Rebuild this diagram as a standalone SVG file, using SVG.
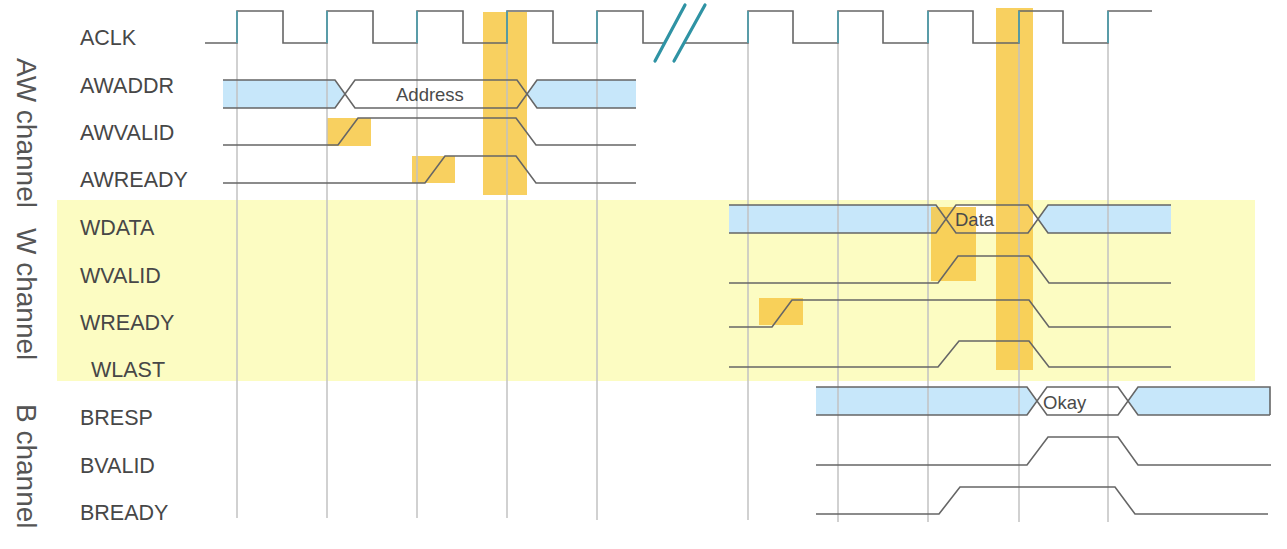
<svg xmlns="http://www.w3.org/2000/svg" width="1287" height="549" viewBox="0 0 1287 549">
<style>
.lbl{font-family:"Liberation Sans",Arial,sans-serif;font-size:21.5px;fill:#474747}
.chan{font-family:"Liberation Sans",Arial,sans-serif;font-size:28px;fill:#555}
.bustxt{font-family:"Liberation Sans",Arial,sans-serif;font-size:18.5px;fill:#4a4a4a}
.sig{fill:none;stroke:#666;stroke-width:1.6;stroke-linejoin:miter}
.blue{fill:#c7e7fa}
.white{fill:#ffffff}
.hl{fill:#f7c94a;opacity:0.88}
.grid{stroke:#c2c2c2;stroke-width:1.5}
.rise{stroke:#4fa3b2;stroke-width:1.6}
</style>
<rect width="1287" height="549" fill="#ffffff"/>
<rect id="w-band" x="57" y="200" width="1198" height="181" fill="#fcfcc2"/>

<g id="bus-fills">
  <polygon class="blue" points="223,80 335,80 345,94 335,108 223,108"/>
  <polygon class="white" points="345,94 355,80 517,80 527,94 517,108 355,108"/>
  <polygon class="blue" points="527,94 537,80 636,80 636,108 537,108"/>
  <polygon class="blue" points="729,205 936,205 946,219 936,233 729,233"/>
  <polygon class="white" points="946,219 956,205 1028,205 1038,219 1028,233 956,233"/>
  <polygon class="blue" points="1038,219 1048,205 1171,205 1171,233 1048,233"/>
  <polygon class="blue" points="816,387 1027,387 1037,401 1027,415 816,415"/>
  <polygon class="white" points="1037,401 1047,387 1118,387 1128,401 1118,415 1047,415"/>
  <polygon class="blue" points="1128,401 1138,387 1270,387 1270,415 1138,415"/>
</g>

<g id="highlights">
  <rect class="hl" x="327" y="118" width="44" height="28"/>
  <rect class="hl" x="412" y="156" width="43" height="27"/>
  <rect class="hl" x="483" y="12" width="44" height="183"/>
  <rect class="hl" x="931" y="207" width="45" height="74"/>
  <rect class="hl" x="759" y="298" width="44" height="27"/>
  <rect class="hl" x="996" y="8" width="37" height="362"/>
</g>

<g id="connectors">
  <line class="grid" x1="237" y1="43" x2="237" y2="518"/>
  <line class="grid" x1="327" y1="43" x2="327" y2="518"/>
  <line class="grid" x1="417" y1="43" x2="417" y2="518"/>
  <line class="grid" x1="507" y1="43" x2="507" y2="518"/>
  <line class="grid" x1="597" y1="43" x2="597" y2="520"/>
  <line class="grid" x1="748" y1="43" x2="748" y2="520"/>
  <line class="grid" x1="838" y1="43" x2="838" y2="522"/>
  <line class="grid" x1="928" y1="43" x2="928" y2="522"/>
  <line class="grid" x1="1019" y1="43" x2="1019" y2="522"/>
  <line class="grid" x1="1108" y1="43" x2="1108" y2="522"/>
</g>

<g id="ACLK">
  <text class="lbl" x="80" y="45">ACLK</text>
  <path class="sig" d="M205,43 H237 V11 H283 V43 H327 V11 H373 V43 H417 V11 H463 V43 H507 V11 H553 V43 H597 V11 H643 V43 H664 M684,43 H748 V11 H793 V43 H838 V11 H883 V43 H928 V11 H973 V43 H1019 V11 H1063 V43 H1108 V11 H1152"/>
  <g class="rise">
    <line x1="237" y1="11" x2="237" y2="43"/>
    <line x1="327" y1="11" x2="327" y2="43"/>
    <line x1="417" y1="11" x2="417" y2="43"/>
    <line x1="507" y1="11" x2="507" y2="43"/>
    <line x1="597" y1="11" x2="597" y2="43"/>
    <line x1="748" y1="11" x2="748" y2="43"/>
    <line x1="838" y1="11" x2="838" y2="43"/>
    <line x1="928" y1="11" x2="928" y2="43"/>
    <line x1="1019" y1="11" x2="1019" y2="43"/>
    <line x1="1108" y1="11" x2="1108" y2="43"/>
  </g>
  <g stroke="#2f93a4" stroke-width="3.2" stroke-linecap="round">
    <line x1="655" y1="61" x2="685" y2="5"/>
    <line x1="674" y1="61" x2="705" y2="5"/>
  </g>
</g>

<g id="AWADDR">
  <text class="lbl" x="80" y="93">AWADDR</text>
  <path class="sig" d="M223,80 H335 L355,108 H517 L537,80 H636 M223,108 H335 L355,80 H517 L537,108 H636"/>
  <text class="bustxt" x="396" y="101">Address</text>
</g>
<g id="AWVALID">
  <text class="lbl" x="80" y="140">AWVALID</text>
  <path class="sig" d="M223,145 H338 L358,118 H516 L536,145 H636"/>
</g>
<g id="AWREADY">
  <text class="lbl" x="80" y="187">AWREADY</text>
  <path class="sig" d="M223,183 H425 L445,156 H516 L536,183 H636"/>
</g>

<g id="WDATA">
  <text class="lbl" x="80" y="235">WDATA</text>
  <path class="sig" d="M729,205 H936 L956,233 H1028 L1048,205 H1171 M729,233 H936 L956,205 H1028 L1048,233 H1171"/>
  <text class="bustxt" x="955" y="226">Data</text>
</g>
<g id="WVALID">
  <text class="lbl" x="80" y="283">WVALID</text>
  <path class="sig" d="M729,283 H938 L958,256 H1029 L1049,283 H1171"/>
</g>
<g id="WREADY">
  <text class="lbl" x="80" y="330">WREADY</text>
  <path class="sig" d="M729,327 H772 L792,300 H1029 L1049,327 H1171"/>
</g>
<g id="WLAST">
  <text class="lbl" x="91" y="377">WLAST</text>
  <path class="sig" d="M729,367 H938 L959,341 H1029 L1049,367 H1171"/>
</g>

<g id="BRESP">
  <text class="lbl" x="80" y="425">BRESP</text>
  <path class="sig" d="M816,387 H1027 L1047,415 H1118 L1138,387 H1270 V415 M816,415 H1027 L1047,387 H1118 L1138,415 H1270"/>
  <text class="bustxt" x="1043" y="409">Okay</text>
</g>
<g id="BVALID">
  <text class="lbl" x="80" y="473">BVALID</text>
  <path class="sig" d="M816,465 H1027 L1048,437 H1118 L1138,465 H1271"/>
</g>
<g id="BREADY">
  <text class="lbl" x="80" y="520">BREADY</text>
  <path class="sig" d="M816,514 H939 L960,487 H1115 L1135,514 H1268"/>
</g>

<g id="channel-labels">
  <text class="chan" transform="translate(17,58) rotate(90)">AW channel</text>
  <text class="chan" transform="translate(17,228) rotate(90)">W channel</text>
  <text class="chan" transform="translate(17,404) rotate(90)">B channel</text>
</g>
</svg>
